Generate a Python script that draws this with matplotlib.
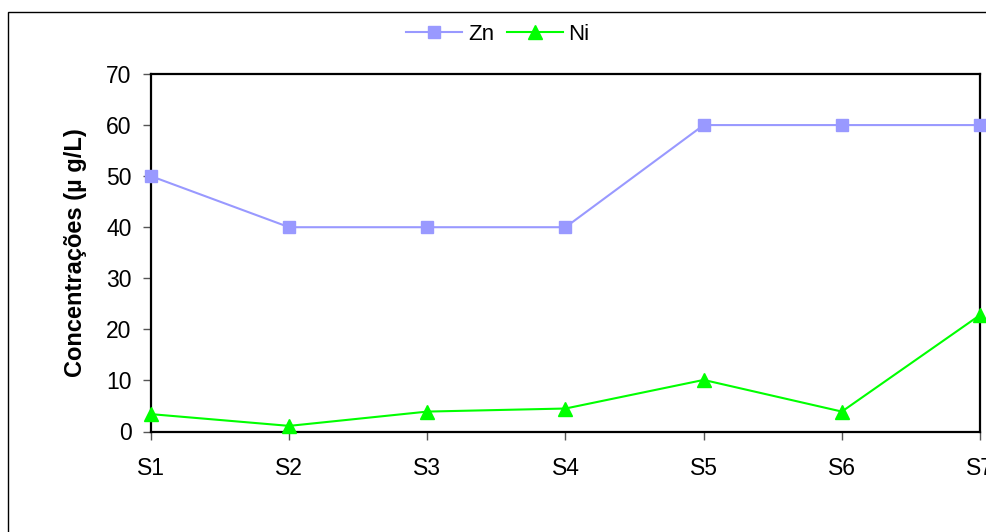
import matplotlib
matplotlib.use("Agg")
import matplotlib.pyplot as plt
from matplotlib.patches import Rectangle
from matplotlib.lines import Line2D

plt.rcParams['font.family'] = ['Liberation Sans', 'DejaVu Sans']

sites = ["S1", "S2", "S3", "S4", "S5", "S6", "S7"]
zn = [50, 40, 40, 40, 60, 60, 60]
ni = [3.4, 1.1, 3.9, 4.5, 10.1, 3.9, 22.8]
yticks = [0, 10, 20, 30, 40, 50, 60, 70]

W, H = 987, 532
fig = plt.figure(figsize=(W/100, H/100), dpi=100)
fig.patch.set_facecolor("white")

# outer chart border (extends beyond right/bottom of image)
fig.add_artist(Rectangle((8/W, -0.1), 1.2, (H-12)/H + 0.1, transform=fig.transFigure,
                         fill=False, edgecolor="black", linewidth=1.0))

left, right, top, bottom = 151, 980, 74, 431.5
ax = fig.add_axes([left/W, 1-bottom/H, (right-left)/W, (bottom-top)/H])
x = list(range(len(sites)))
ax.plot(x, zn, color="#9999FF", marker="s", markersize=9, linewidth=1.5, label="Zn", clip_on=False, zorder=3)
ax.plot(x, ni, color="#00FF00", marker="^", markersize=10, linewidth=1.5, label="Ni", clip_on=False, zorder=3)

ax.set_xlim(0, len(sites)-1)
ax.set_ylim(0, 70)
ax.set_xticks(x)
ax.set_xticklabels(sites)
ax.set_yticks(yticks)
for s in ax.spines.values():
    s.set_linewidth(1.6)
    s.set_color("black")
ax.tick_params(axis="both", direction="out", length=6, width=1, color="#555555", labelsize=16.5)
ax.tick_params(axis="x", pad=12.5)
ax.tick_params(axis="y", pad=8)
ax.set_ylabel("Concentrações (µ g/L)", fontsize=17, fontweight="bold")
ax.yaxis.set_label_coords(-(left-87)/(right-left), 0.5)

leg = fig.legend(handles=[
    Line2D([], [], color="#9999FF", marker="s", markersize=9, linewidth=1.5),
    Line2D([], [], color="#00FF00", marker="^", markersize=10, linewidth=1.5)],
    labels=["Zn", "Ni"], loc="center", bbox_to_anchor=(498/W, 1-34/H), ncol=2,
    frameon=False, fontsize=16, handlelength=2.5, handletextpad=0.27, columnspacing=0.58,
    borderpad=0)

fig.savefig("out.png", dpi=100)
